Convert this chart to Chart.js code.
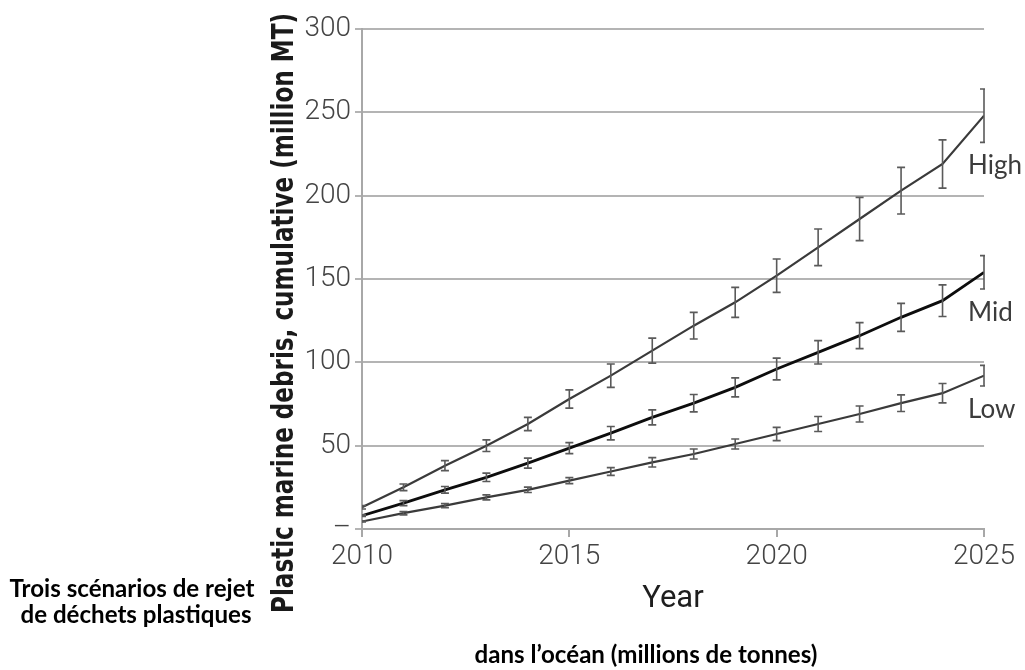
<!DOCTYPE html>
<html>
<head>
<meta charset="utf-8">
<script src="https://cdn.jsdelivr.net/npm/chart.js@4.4.1/dist/chart.umd.min.js"></script>
<style>
  html, body { margin: 0; padding: 0; background: #fff; }
  #wrap { width: 1025px; height: 670px; }
</style>
</head>
<body>
<div id="wrap"><canvas id="chart" width="1025" height="670"></canvas></div>
<script>
// -----------------------
// Data
// -----------------------
const years = [2010, 2011, 2012, 2013, 2014, 2015, 2016, 2017, 2018, 2019, 2020, 2021, 2022, 2023, 2024, 2025];

const highValues = [13, 25, 38, 50, 63, 78, 92, 107, 122, 136, 152, 169, 186, 203, 219, 248];
const highErrors = [1, 2, 3, 3.5, 4, 5.5, 7, 7.5, 8, 9, 10, 11, 13, 14, 14.5, 16];

const midValues = [8, 15.5, 23.5, 31, 39.5, 48.5, 57.5, 67, 75.5, 85, 96, 106, 116, 127, 137, 154];
const midErrors = [0.5, 1.5, 2, 2.5, 3, 3.3, 4, 4.5, 5.2, 5.7, 6.5, 7, 7.8, 8.4, 9.5, 10];

const lowValues = [4.5, 9.5, 14, 19, 23.5, 29, 34.5, 40, 45, 51, 57, 63, 69, 75.5, 81.5, 92];
const lowErrors = [0.3, 1, 1.2, 1.5, 1.6, 1.8, 2.3, 2.8, 3, 3, 4, 4.5, 4.8, 5, 5.8, 6.2];

const seriesNames = ['High', 'Mid', 'Low'];
const xTickYears = [2010, 2015, 2020, 2025];
const yTickValues = [0, 50, 100, 150, 200, 250, 300];

const yTitle = 'Plastic marine debris, cumulative (million MT)';
const xTitle = 'Year';
const captionLines = ['Trois scénarios de rejet', 'de déchets plastiques'];
const captionBottom = 'dans l\u2019océan (millions de tonnes)';

// -----------------------
// Helpers
// -----------------------
const NARROW = "'Liberation Sans Narrow', 'DejaVu Sans Condensed', 'Roboto Condensed', Roboto, sans-serif";
const TICKFONT = "Roboto, 'Open Sans', sans-serif";

function toPoints(vals) {
  return vals.map((v, i) => ({ x: years[i], y: v }));
}

function fitFont(ctx, text, width, weight, family) {
  ctx.font = `${weight} 100px ${family}`;
  const w = ctx.measureText(text).width;
  return 100 * width / w;
}

// error bars drawn from the dataset arrays through the y scale
const errorBars = {
  id: 'errorBars',
  afterDatasetsDraw(chart) {
    const { ctx, chartArea, scales } = chart;
    const errs = [highErrors, midErrors, lowErrors];
    ctx.save();
    ctx.beginPath();
    ctx.rect(chartArea.left, chartArea.top - 20, chartArea.right - chartArea.left + 1, chartArea.bottom - chartArea.top + 20);
    ctx.clip();
    ctx.strokeStyle = '#5a5a5a';
    ctx.lineWidth = 1.6;
    chart.data.datasets.forEach((ds, di) => {
      const meta = chart.getDatasetMeta(di);
      meta.data.forEach((pt, i) => {
        const v = ds.data[i].y;
        const e = errs[di][i];
        const x = pt.x;
        const y1 = scales.y.getPixelForValue(v - e);
        const y2 = scales.y.getPixelForValue(v + e);
        const cap = 4;
        ctx.beginPath();
        ctx.moveTo(x, y1); ctx.lineTo(x, y2);
        ctx.moveTo(x - cap, y1); ctx.lineTo(x + cap, y1);
        ctx.moveTo(x - cap, y2); ctx.lineTo(x + cap, y2);
        ctx.stroke();
      });
    });
    ctx.restore();
  }
};

// axis titles, series names and the French caption
const textLayer = {
  id: 'textLayer',
  afterDraw(chart) {
    const { ctx, chartArea } = chart;
    ctx.save();

    // y axis title, rotated
    ctx.save();
    ctx.translate(293, 313);
    ctx.rotate(-Math.PI / 2);
    ctx.font = `600 30px ${NARROW}`;
    const w = ctx.measureText(yTitle).width;
    ctx.scale(600 / w, 1);
    ctx.fillStyle = '#1a1a1a';
    ctx.textAlign = 'center';
    ctx.textBaseline = 'alphabetic';
    ctx.fillText(yTitle, 0, 0);
    ctx.restore();

    // x axis title
    ctx.font = `400 31px ${TICKFONT}`;
    ctx.fillStyle = '#1e1e1e';
    ctx.textAlign = 'center';
    ctx.textBaseline = 'alphabetic';
    ctx.fillText(xTitle, (chartArea.left + chartArea.right) / 2, 607);

    // series names at the right end
    ctx.font = "26px Lato, 'Open Sans', sans-serif";
    ctx.fillStyle = '#3c3c3c';
    ctx.textAlign = 'left';
    ctx.textBaseline = 'middle';
    const nameY = [166, 313, 410];
    seriesNames.forEach((n, i) => ctx.fillText(n, 968, nameY[i]));

    // caption
    ctx.fillStyle = '#000';
    ctx.textAlign = 'center';
    ctx.textBaseline = 'alphabetic';
    const fam = "Lato, 'Open Sans', sans-serif";
    const size = fitFont(ctx, captionLines[0], 245, 'bold', fam);
    ctx.font = `bold ${size}px ${fam}`;
    ctx.fillText(captionLines[0], 132, 597);
    ctx.fillText(captionLines[1], 136, 623);
    ctx.fillText(captionBottom, 646, 663);

    ctx.restore();
  }
};

// -----------------------
// Chart
// -----------------------
const lineStyle = (data, color, width) => ({
  data, borderColor: color, borderWidth: width, pointRadius: 0, tension: 0, fill: false
});

new Chart(document.getElementById('chart').getContext('2d'), {
  type: 'line',
  data: {
    datasets: [
      { label: seriesNames[0], ...lineStyle(toPoints(highValues), '#3a3a3a', 2.2) },
      { label: seriesNames[1], ...lineStyle(toPoints(midValues), '#0d0d0d', 2.8) },
      { label: seriesNames[2], ...lineStyle(toPoints(lowValues), '#3a3a3a', 2.2) }
    ]
  },
  options: {
    responsive: false,
    animation: false,
    devicePixelRatio: 1,
    layout: { padding: { top: 29, right: 41, left: 0, bottom: 0 } },
    plugins: { legend: { display: false }, tooltip: { enabled: false } },
    scales: {
      x: {
        type: 'linear',
        min: years[0],
        max: years[years.length - 1],
        afterBuildTicks: s => { s.ticks = xTickYears.map(v => ({ value: v })); },
        afterFit: s => { s.height = 141; },
        ticks: {
          callback: v => String(v),
          color: '#444',
          padding: 3,
          maxRotation: 0,
          font: { family: TICKFONT, size: 28, weight: 300 }
        },
        grid: { drawOnChartArea: false, drawTicks: true, tickLength: 8, color: '#a8a8a8', lineWidth: 2 },
        border: { display: true, color: '#a8a8a8', width: 2 }
      },
      y: {
        min: 0,
        max: 300,
        afterBuildTicks: s => { s.ticks = yTickValues.map(v => ({ value: v })); },
        afterFit: s => { s.width = 362; },
        ticks: {
          callback: v => v === 0 ? '\u2013' : String(v),
          color: '#444',
          padding: 4,
          font: { family: TICKFONT, size: 28, weight: 300 }
        },
        grid: { color: '#b4b4b4', lineWidth: 2, tickLength: 7, drawTicks: true },
        border: { display: true, color: '#a8a8a8', width: 2 }
      }
    }
  },
  plugins: [errorBars, textLayer]
});
</script>
</body>
</html>
